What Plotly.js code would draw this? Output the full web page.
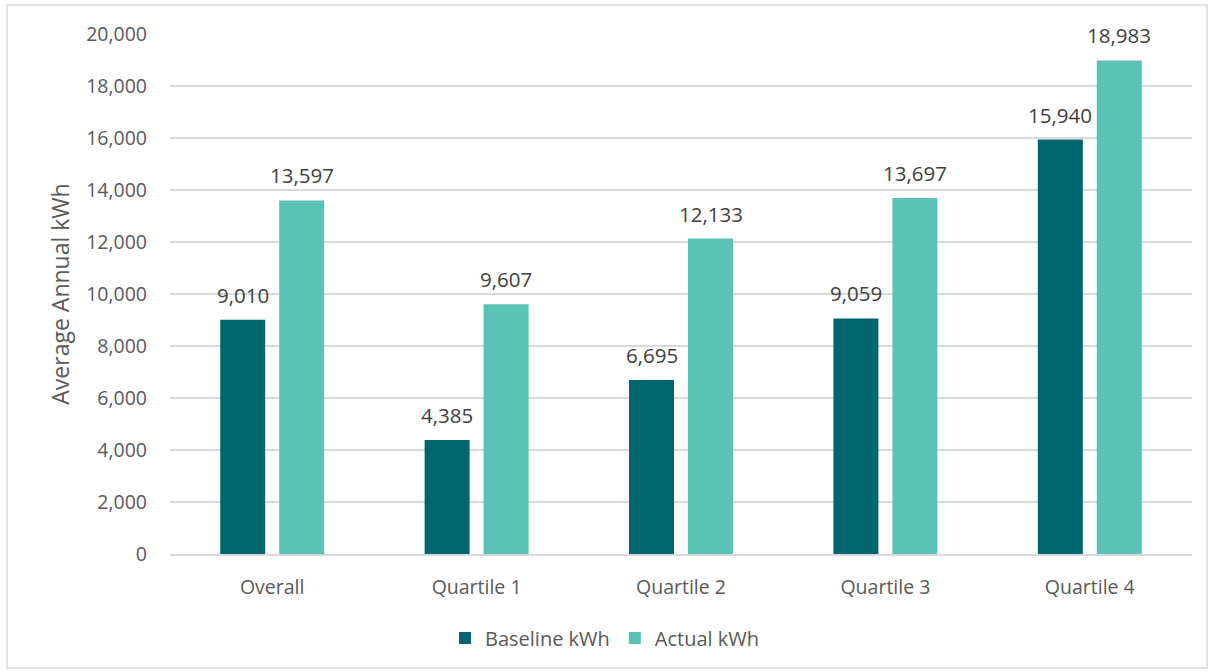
<!DOCTYPE html>
<html><head><meta charset="utf-8">
<script src="https://cdn.plot.ly/plotly-3.0.1.min.js"></script>
<style>html,body{margin:0;padding:0;background:#fff;}#chart{width:1210px;height:672px;}</style>
</head><body><div id="chart"></div>
<script>
const categories = ["Overall", "Quartile 1", "Quartile 2", "Quartile 3", "Quartile 4"];
const baseline = [9010, 4385, 6695, 9059, 15940];
const actual = [13597, 9607, 12133, 13697, 18983];
const seriesNames = ["Baseline kWh", "Actual kWh"];
const yTicks = [0, 2000, 4000, 6000, 8000, 10000, 12000, 14000, 16000, 18000, 20000];

const colors = ["#00656E", "#5AC3B4"];
const font = "'Open Sans', Lato, sans-serif";
const fmt = v => v.toLocaleString("en-US");

const traces = [baseline, actual].map((vals, i) => ({
  type: "bar", x: categories, y: vals, name: seriesNames[i],
  marker: {color: colors[i]}, hoverinfo: "skip"
}));

const annotations = [];
[baseline, actual].forEach((vals, i) => {
  vals.forEach((v, j) => {
    annotations.push({
      x: categories[j], y: v, xref: "x", yref: "y",
      text: fmt(v), showarrow: false, yanchor: "bottom",
      xshift: i === 0 ? -29.5 : 29.5, yshift: 9,
      font: {family: font, size: 20.5, color: "#404040"}
    });
  });
});

const layout = {
  width: 1210, height: 672,
  margin: {l: 170, r: 18, t: 34, b: 118, autoexpand: false},
  paper_bgcolor: "#fff", plot_bgcolor: "#fff",
  barmode: "group", bargap: 0.423, bargroupgap: 0.237,
  font: {family: font, color: "#595959", size: 19},
  xaxis: {
    showgrid: false, showline: true, linecolor: "#d9d9d9", linewidth: 1.5,
    ticks: "", tickfont: {family: font, size: 19.5, color: "#595959"},
    ticklabelstandoff: 15, automargin: false
  },
  yaxis: {
    range: [0, 20000], tickvals: yTicks, ticktext: yTicks.map(fmt),
    showgrid: true, gridcolor: "#d9d9d9", gridwidth: 1.5, zeroline: false,
    ticks: "", ticklabelstandoff: 22, automargin: false,
    tickfont: {family: font, size: 19.5, color: "#595959"},
    title: {text: "Average Annual kWh", font: {family: font, size: 23, color: "#595959"}, standoff: 10}
  },
  legend: {
    orientation: "h", x: 0.5, xanchor: "center", xref: "container",
    y: 0.0506, yanchor: "middle", yref: "container",
    font: {family: font, size: 20, color: "#595959"}, itemwidth: 30
  },
  annotations: annotations,
  shapes: [{type: "rect", xref: "paper", yref: "paper", x0: -0.1595, x1: 1.0147, y0: -0.219, y1: 1.0558,
            line: {color: "#d9d9d9", width: 1.5}}]
};

Plotly.newPlot("chart", traces, layout, {displayModeBar: false, staticPlot: true});
</script></body></html>
